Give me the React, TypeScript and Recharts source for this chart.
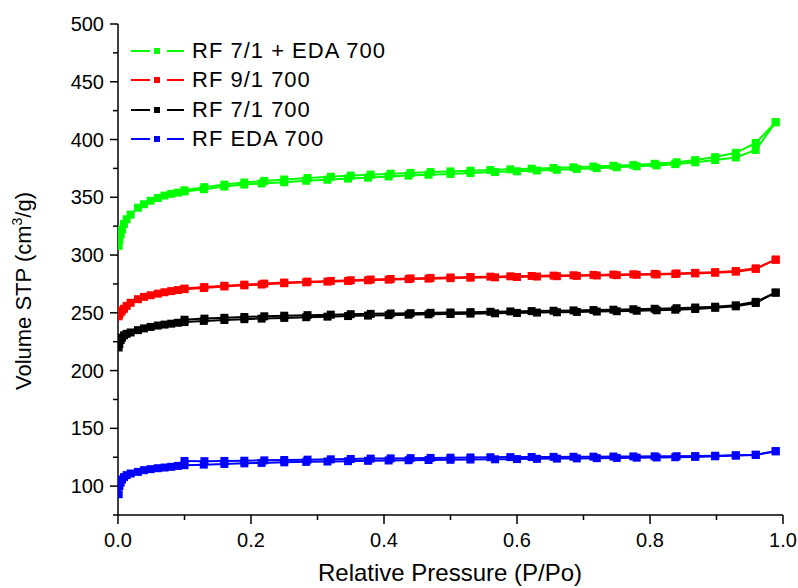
import { ScatterChart, Scatter, XAxis, YAxis, ZAxis, Legend } from "recharts";

// relative pressure (P/Po) of the adsorption and desorption points
const adsP = [
  0.001, 0.002, 0.004, 0.006, 0.009, 0.013, 0.019, 0.03, 0.039, 0.049, 0.06, 0.07, 0.08, 0.09, 0.1,
  0.129, 0.16, 0.19, 0.216, 0.25, 0.283, 0.315, 0.346, 0.376, 0.407, 0.437, 0.467, 0.5, 0.53, 0.567,
  0.6, 0.63, 0.66, 0.69, 0.72, 0.75, 0.78, 0.81, 0.838, 0.868, 0.898, 0.929, 0.959, 0.989,
];
const desP = [
  0.989, 0.959, 0.929, 0.898, 0.868, 0.84, 0.807, 0.775, 0.745, 0.715, 0.685, 0.655, 0.622, 0.59,
  0.56, 0.53, 0.5, 0.47, 0.44, 0.41, 0.38, 0.35, 0.32, 0.285, 0.25, 0.22, 0.19, 0.16, 0.13, 0.1,
];

// volume adsorbed (cm3/g)
const greenAds = [
  308, 313, 318, 322, 327, 331, 335, 341, 344, 347, 349.4, 351.5, 353, 354, 355, 357, 359.3, 361, 362,
  363, 364.3, 365.2, 366.2, 367, 368, 368.8, 369.5, 370.2, 371, 371.8, 372.5, 373.2, 373.8, 374.5,
  375.2, 376, 376.8, 377.6, 378.7, 380.3, 382.2, 384.5, 391, 415,
];
const greenDes = [
  415, 397, 388.5, 384.8, 382.2, 380.3, 379, 378, 377.3, 376.6, 376, 375.4, 374.8, 374.2, 373.6, 373,
  372.4, 371.8, 371.1, 370.4, 369.6, 368.8, 367.8, 366.7, 365.4, 364.2, 362.8, 361, 358.8, 356,
];
const redAds = [
  247, 249, 250.5, 252, 253.5, 256, 258.7, 261.8, 263.8, 265.2, 266.6, 267.8, 268.8, 269.7, 270.5,
  271.5, 272.8, 273.8, 274.5, 275.6, 276.4, 277, 277.6, 278.2, 278.7, 279.2, 279.6, 280, 280.4, 280.7,
  281, 281.4, 281.7, 282, 282.3, 282.6, 282.9, 283.2, 283.6, 284.1, 284.7, 285.6, 288, 296,
];
const redDes = [
  296, 288.5, 286.2, 285.2, 284.6, 284.1, 283.7, 283.4, 283.1, 282.8, 282.5, 282.2, 281.9, 281.6,
  281.3, 281, 280.6, 280.2, 279.8, 279.3, 278.8, 278.2, 277.6, 277, 276.2, 275.3, 274.4, 273.4, 272.3, 271,
];
const blackAds = [
  220, 223, 226.5, 228.5, 230.5, 231.8, 233, 235, 236.5, 237.8, 239, 239.8, 240.6, 241.4, 242, 243,
  243.8, 244.5, 245, 245.6, 246.2, 246.7, 247.2, 247.6, 248, 248.4, 248.7, 249, 249.3, 249.6, 249.9,
  250.2, 250.5, 250.8, 251.1, 251.4, 251.8, 252.2, 252.7, 253.3, 254.3, 255.6, 258.5, 267.5,
];
const blackDes = [
  267.5, 259.5, 256.5, 255.3, 254.6, 254, 253.5, 253.1, 252.7, 252.4, 252.1, 251.8, 251.5, 251.2,
  250.9, 250.6, 250.3, 250, 249.7, 249.4, 249.1, 248.8, 248.4, 248, 247.5, 247, 246.4, 245.7, 245, 244,
];
const blueAds = [
  93, 100, 103, 105.7, 107.8, 109.5, 110.9, 112.3, 113.8, 114.7, 115.5, 116.1, 116.7, 117.5, 118.1,
  118.6, 119.2, 119.7, 120.1, 120.6, 121, 121.3, 121.6, 121.9, 122.2, 122.4, 122.6, 122.8, 123, 123.2,
  123.4, 123.6, 123.8, 124, 124.2, 124.4, 124.6, 124.8, 125, 125.3, 125.8, 126.4, 127, 130.2,
];
const blueDes = [
  130.2, 127.2, 126.7, 126.3, 126, 125.9, 125.8, 125.7, 125.6, 125.5, 125.4, 125.3, 125.2, 125.1, 125,
  124.8, 124.6, 124.4, 124.2, 124, 123.8, 123.5, 123.2, 122.9, 122.6, 122.3, 122, 121.8, 121.6, 121.8,
];

const xTicks = [0, 0.1, 0.2, 0.3, 0.4, 0.5, 0.6, 0.7, 0.8, 0.9, 1.0];
const yTicks = [75, 100, 125, 150, 175, 200, 225, 250, 275, 300, 325, 350, 375, 400, 425, 450, 475, 500];

const series = [
  { name: "RF 7/1 + EDA 700", color: "#00ff00", ads: greenAds, des: greenDes },
  { name: "RF 9/1 700", color: "#ff0000", ads: redAds, des: redDes },
  { name: "RF 7/1 700", color: "#000000", ads: blackAds, des: blackDes },
  { name: "RF EDA 700", color: "#0000ff", ads: blueAds, des: blueDes },
];

const zip = (ps: number[], vs: number[]) => ps.map((p, i) => ({ p, v: vs[i] }));

const font = "Arial, 'Liberation Sans', sans-serif";
const isMajorX = (v: number) => Math.round(v * 10) % 2 === 0;
const isMajorY = (v: number) => v % 50 === 0;

const BottomTick = (props: any) => {
  const { x, y, payload } = props;
  const major = isMajorX(payload.value);
  return (
    <g>
      <line x1={x} x2={x} y1={y} y2={y + (major ? 9 : 5)} stroke="#000" strokeWidth={1.5} />
      {major && (
        <text x={x} y={y + 32} textAnchor="middle" fontSize={20} fill="#000" fontFamily={font}>
          {payload.value.toFixed(1)}
        </text>
      )}
    </g>
  );
};

const TopTick = (props: any) => {
  const { x, y, payload } = props;
  const major = isMajorX(payload.value);
  return <line x1={x} x2={x} y1={y} y2={y + (major ? 8 : 5)} stroke="#000" strokeWidth={1.5} />;
};

const LeftTick = (props: any) => {
  const { x, y, payload } = props;
  const major = isMajorY(payload.value);
  return (
    <g>
      <line x1={x} x2={x - (major ? 8 : 5)} y1={y} y2={y} stroke="#000" strokeWidth={1.5} />
      {major && (
        <text x={x - 14} y={y + 7} textAnchor="end" fontSize={20} fill="#000" fontFamily={font}>
          {payload.value}
        </text>
      )}
    </g>
  );
};

const RightTick = (props: any) => {
  const { x, y, payload } = props;
  const major = isMajorY(payload.value);
  return <line x1={x} x2={x - (major ? 8 : 5)} y1={y} y2={y} stroke="#000" strokeWidth={1.5} />;
};

const LegendBox = () => (
  <div style={{ fontFamily: font, fontSize: 22, letterSpacing: 1, color: "#000" }}>
    {series.map((s) => (
      <div key={s.name} style={{ display: "flex", alignItems: "center", height: 29.5 }}>
        <svg width={61} height={12}>
          <line x1={0} x2={19} y1={6} y2={6} stroke={s.color} strokeWidth={2} />
          <rect x={23} y={3} width={6} height={6} fill={s.color} />
          <line x1={36} x2={53} y1={6} y2={6} stroke={s.color} strokeWidth={2} />
        </svg>
        <span>{s.name}</span>
      </div>
    ))}
  </div>
);

export default function App() {
  return (
    <div style={{ width: 798, height: 588, background: "#fff" }}>
      <style>{"body { margin: 0; overflow: hidden; }"}</style>
      <ScatterChart width={798} height={588} margin={{ top: 24, right: 15, bottom: 0, left: 0 }}>
        <XAxis
          xAxisId="x"
          type="number"
          dataKey="p"
          domain={[0, 1]}
          ticks={xTicks}
          interval={0}
          height={73}
          tickSize={0}
          tickMargin={0}
          tick={<BottomTick />}
          axisLine={{ stroke: "#000", strokeWidth: 1.5 }}
          allowDataOverflow
          label={{
            content: () => (
              <text x={450} y={581} textAnchor="middle" fontSize={24} fill="#000" fontFamily={font}>
                Relative Pressure (P/Po)
              </text>
            ),
          }}
        />
        <XAxis
          xAxisId="top"
          orientation="top"
          type="number"
          dataKey="p"
          domain={[0, 1]}
          ticks={xTicks}
          interval={0}
          height={0}
          tickSize={0}
          tickMargin={0}
          tick={<TopTick />}
          axisLine={{ stroke: "#000", strokeWidth: 1.5 }}
          allowDataOverflow
        />
        <YAxis
          yAxisId="y"
          type="number"
          dataKey="v"
          domain={[75, 500]}
          ticks={yTicks}
          interval={0}
          width={118}
          tickSize={0}
          tickMargin={0}
          tick={<LeftTick />}
          axisLine={{ stroke: "#000", strokeWidth: 1.5 }}
          allowDataOverflow
          label={{
            content: () => (
              <text
                x={0}
                y={0}
                transform="translate(31,291) rotate(-90)"
                textAnchor="middle"
                fontSize={22}
                fill="#000"
                fontFamily={font}
              >
                Volume STP (cm
                <tspan dy={-9} fontSize={14}>3</tspan>
                <tspan dy={9}>/g)</tspan>
              </text>
            ),
          }}
        />
        <YAxis
          yAxisId="right"
          orientation="right"
          type="number"
          dataKey="v"
          domain={[75, 500]}
          ticks={yTicks}
          interval={0}
          width={0}
          tickSize={0}
          tickMargin={0}
          tick={<RightTick />}
          axisLine={{ stroke: "#000", strokeWidth: 1.5 }}
          allowDataOverflow
        />
        <ZAxis range={[42, 42]} />
        <Legend
          layout="vertical"
          align="center"
          verticalAlign="middle"
          wrapperStyle={{ left: 131, top: 36, width: 320 }}
          content={() => <LegendBox />}
        />
        {series.map((s) => [
          <Scatter
            key={s.name + "-ads"}
            xAxisId="x"
            yAxisId="y"
            data={zip(adsP, s.ads)}
            fill={s.color}
            shape="square"
            line={{ stroke: s.color, strokeWidth: 2 }}
            isAnimationActive={false}
          />,
          <Scatter
            key={s.name + "-des"}
            xAxisId="x"
            yAxisId="y"
            data={zip(desP, s.des)}
            fill={s.color}
            shape="square"
            line={{ stroke: s.color, strokeWidth: 2 }}
            isAnimationActive={false}
          />,
        ])}
      </ScatterChart>
    </div>
  );
}
